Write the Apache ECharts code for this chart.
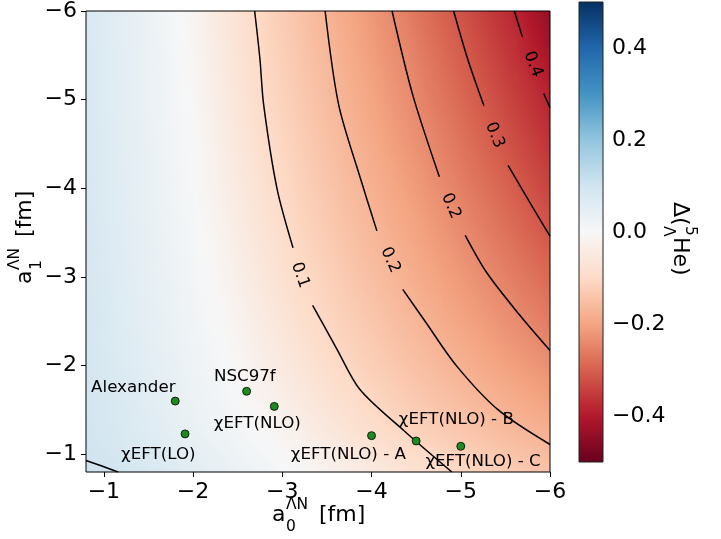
<!DOCTYPE html>
<html><head><meta charset="utf-8">
<script src="https://cdn.jsdelivr.net/npm/echarts@6.0.0/dist/echarts.min.js"></script>
<style>html,body{margin:0;padding:0;background:#fff}#chart{width:721px;height:539px}</style>
</head><body><div id="chart"></div>
<script>
// ---------- data ----------
// grid nodes (fm)
const xNodes = [-0.8,-1.2,-1.6,-2.0,-2.4,-2.8,-3.2,-3.6,-4.0,-4.4,-4.8,-5.2,-5.6,-6.0];
const yNodes = [-0.8,-1.2,-1.6,-2.0,-2.4,-2.8,-3.2,-3.6,-4.0,-4.4,-4.8,-5.2,-5.6,-6.0];
// Delta(5_Lambda He) colour-field values, one row per a1 node, columns follow xNodes
const delta_a1_0_8 = [0.105,0.096,0.077,0.057,0.038,0.018,-0.001,-0.025,-0.048,-0.072,-0.096,-0.112,-0.127,-0.145];
const delta_a1_1_2 = [0.098,0.078,0.059,0.039,0.020,0.000,-0.027,-0.055,-0.083,-0.107,-0.125,-0.142,-0.160,-0.177];
const delta_a1_1_6 = [0.095,0.074,0.053,0.031,0.010,-0.017,-0.048,-0.079,-0.107,-0.127,-0.147,-0.167,-0.186,-0.205];
const delta_a1_2_0 = [0.093,0.070,0.048,0.025,0.002,-0.031,-0.065,-0.099,-0.122,-0.144,-0.166,-0.188,-0.209,-0.230];
const delta_a1_2_4 = [0.091,0.067,0.043,0.019,-0.007,-0.043,-0.080,-0.111,-0.135,-0.159,-0.183,-0.206,-0.230,-0.254];
const delta_a1_2_8 = [0.089,0.064,0.040,0.015,-0.015,-0.054,-0.093,-0.121,-0.147,-0.172,-0.198,-0.223,-0.249,-0.276];
const delta_a1_3_2 = [0.087,0.062,0.036,0.011,-0.023,-0.064,-0.103,-0.130,-0.158,-0.185,-0.212,-0.239,-0.268,-0.297];
const delta_a1_3_6 = [0.086,0.060,0.034,0.007,-0.030,-0.073,-0.110,-0.139,-0.168,-0.196,-0.225,-0.255,-0.286,-0.318];
const delta_a1_4_0 = [0.085,0.058,0.031,0.004,-0.037,-0.081,-0.117,-0.147,-0.177,-0.207,-0.238,-0.270,-0.303,-0.339];
const delta_a1_4_4 = [0.084,0.057,0.029,0.002,-0.043,-0.088,-0.123,-0.154,-0.186,-0.218,-0.250,-0.285,-0.320,-0.358];
const delta_a1_4_8 = [0.083,0.055,0.027,-0.002,-0.049,-0.096,-0.129,-0.162,-0.195,-0.228,-0.263,-0.299,-0.337,-0.376];
const delta_a1_5_2 = [0.082,0.054,0.025,-0.005,-0.054,-0.101,-0.135,-0.168,-0.203,-0.237,-0.275,-0.312,-0.352,-0.393];
const delta_a1_5_6 = [0.081,0.052,0.024,-0.009,-0.058,-0.106,-0.140,-0.175,-0.211,-0.247,-0.286,-0.326,-0.366,-0.418];
const delta_a1_6_0 = [0.080,0.051,0.022,-0.013,-0.063,-0.110,-0.145,-0.181,-0.219,-0.257,-0.298,-0.339,-0.380,-0.440];

// contour lines [a0, a1]
const contourM = [[-0.8,-0.93],[-0.97,-0.87],[-1.16,-0.8]];
const contour01a = [[-2.69,-6.0],[-2.75,-5.45],[-2.79,-4.95],[-2.94,-4.0],[-3.12,-3.33]];
const contour01b = [[-3.34,-2.68],[-3.61,-2.19],[-3.87,-1.73],[-4.37,-1.26],[-4.90,-0.8]];
const contour02a = [[-3.48,-6.0],[-3.63,-4.95],[-3.87,-4.13],[-4.06,-3.52]];
const contour02b = [[-4.35,-2.86],[-4.60,-2.50],[-4.95,-2.0],[-5.42,-1.5],[-6.0,-1.11]];
const contour03a = [[-4.23,-6.0],[-4.46,-5.06],[-4.76,-4.13]];
const contour03b = [[-5.05,-3.47],[-5.29,-3.05],[-5.66,-2.57],[-6.0,-2.17]];
const contour04a = [[-4.92,-6.0],[-5.08,-5.45],[-5.26,-4.93]];
const contour04b = [[-5.53,-4.26],[-5.78,-3.83],[-6.0,-3.46]];
const contour05a = [[-5.60,-6.0],[-5.69,-5.71]];
const contour05b = [[-5.93,-5.07],[-6.0,-4.91]];
// inline contour labels
const contourLabelText = ['0.1','0.2','0.2','0.3','0.4'];
const contourLabelA0 = [-3.20,-4.21,-4.89,-5.38,-5.81];
const contourLabelA1 = [-3.02,-3.19,-3.80,-4.60,-5.40];
const contourLabelAngle = [-71,-66,-66,-68,-69];

// potentials
const pointNames = ['Alexander','χEFT(LO)','NSC97f','χEFT(NLO)','χEFT(NLO) - A','χEFT(NLO) - B','χEFT(NLO) - C'];
const pointA0 = [-1.80,-1.91,-2.60,-2.91,-4.00,-4.50,-5.00];
const pointA1 = [-1.60,-1.23,-1.71,-1.54,-1.21,-1.15,-1.09];
const textA0 = [-1.33,-1.61,-2.58,-2.72,-3.74,-4.95,-5.25];
const textA1 = [-1.75,-0.99,-1.88,-1.35,-0.99,-1.39,-0.92];

// ticks
const xTicks = [-1,-2,-3,-4,-5,-6];
const yTicks = [-1,-2,-3,-4,-5,-6];
const cbTicks = [-0.4,-0.2,0,0.2,0.4];
const CB_MIN = -0.5, CB_MAX = 0.5;

// ---------- colour map (RdBu) ----------
const RDBU = ['#67001f','#b2182b','#d6604d','#f4a582','#fddbc7','#f7f7f7','#d1e5f0','#92c5de','#4393c3','#2166ac','#053061'];
const RDBU_RGB = RDBU.map(h => [parseInt(h.slice(1,3),16), parseInt(h.slice(3,5),16), parseInt(h.slice(5,7),16)]);
function cmap(v){
  let t = (v - CB_MIN) / (CB_MAX - CB_MIN);
  t = Math.max(0, Math.min(1, t));
  const s = t * 10; const i = Math.min(9, Math.floor(s)); const f = s - i;
  const a = RDBU_RGB[i], b = RDBU_RGB[i+1];
  return 'rgb(' + Math.round(a[0]+(b[0]-a[0])*f) + ',' + Math.round(a[1]+(b[1]-a[1])*f) + ',' + Math.round(a[2]+(b[2]-a[2])*f) + ')';
}

const deltaRows = [delta_a1_0_8,delta_a1_1_2,delta_a1_1_6,delta_a1_2_0,delta_a1_2_4,delta_a1_2_8,delta_a1_3_2,delta_a1_3_6,delta_a1_4_0,delta_a1_4_4,delta_a1_4_8,delta_a1_5_2,delta_a1_5_6,delta_a1_6_0];
const cells = [];
for (let j = 0; j < yNodes.length - 1; j++) {
  for (let i = 0; i < xNodes.length - 1; i++) {
    cells.push([xNodes[i], yNodes[j], xNodes[i+1], yNodes[j+1],
      deltaRows[j][i], deltaRows[j][i+1], deltaRows[j+1][i], deltaRows[j+1][i+1]]);
  }
}

function renderCell(params, api) {
  const x0 = api.value(0), y0 = api.value(1), x1 = api.value(2), y1 = api.value(3);
  const a = api.value(4), b = api.value(5), c = api.value(6), d = api.value(7);
  const p00 = api.coord([x0, y0]), p10 = api.coord([x1, y0]), p01 = api.coord([x0, y1]);
  const left = Math.min(p00[0], p10[0]), right = Math.max(p00[0], p10[0]);
  const top = Math.min(p00[1], p01[1]), bottom = Math.max(p00[1], p01[1]);
  const dxp = p10[0] - p00[0], dyp = p01[1] - p00[1];
  const gx = ((b - a) + (d - c)) / 2 / dxp;
  const gy = ((c - a) + (d - b)) / 2 / dyp;
  const m = (a + b + c + d) / 4;
  const W = right - left, H = bottom - top;
  const cx = (left + right) / 2, cy = (top + bottom) / 2;
  const gl = Math.hypot(gx, gy);
  let fill;
  if (gl < 1e-9) fill = cmap(m);
  else {
    const nx = gx / gl, ny = gy / gl;
    const t = (W * Math.abs(nx) + H * Math.abs(ny)) / 2 + 1;
    const v1 = m - gl * t, v2 = m + gl * t;
    const stops = [];
    for (let k = 0; k <= 6; k++) stops.push({offset: k / 6, color: cmap(v1 + (v2 - v1) * k / 6)});
    fill = new echarts.graphic.LinearGradient(cx - nx * t, cy - ny * t, cx + nx * t, cy + ny * t, stops, true);
  }
  return {type: 'rect', shape: {x: left - 0.5, y: top - 0.5, width: W + 1, height: H + 1}, style: {fill: fill}};
}

function renderColorbar(params, api) {
  const pTop = api.coord([0, CB_MAX]), pBot = api.coord([1, CB_MIN]);
  const stops = RDBU.map((col, k) => ({offset: k / 10, color: RDBU[10 - k]}));
  return {type: 'rect', shape: {x: pTop[0], y: pTop[1], width: pBot[0] - pTop[0], height: pBot[1] - pTop[1]},
    style: {fill: new echarts.graphic.LinearGradient(0, 0, 0, 1, stops), stroke: '#222', lineWidth: 1}};
}

const FONT = 'DejaVu Sans';
const minus = v => (v < 0 ? '\u2212' : '') + Math.abs(v);
const minus1 = v => (v < 0 ? '\u2212' : '') + Math.abs(v).toFixed(1);

function contourSeries(data) {
  return {type: 'line', xAxisIndex: 0, yAxisIndex: 0, data: data, symbol: 'none', smooth: 0.3,
    lineStyle: {color: '#000', width: 1.5}, z: 4, silent: true};
}

function mathTitle(x, y, rot, parts) {
  return {type: 'group', x: x, y: y, rotation: rot, children: parts.map(p => ({
    type: 'text', x: p[1], y: p[2], style: {text: p[0], fontSize: p[3], fontFamily: FONT, fill: '#000',
      textAlign: 'left', textVerticalAlign: 'middle'}}))};
}

const chart = echarts.init(document.getElementById('chart'), null, {renderer: 'canvas'});
const option = {
  animation: false,
  backgroundColor: '#fff',
  grid: [
    {left: 86, top: 6, width: 464, height: 466, show: true, borderColor: '#000', borderWidth: 1, backgroundColor: 'transparent', z: 10},
    {left: 579, top: 2, width: 24, height: 460, show: false}
  ],
  xAxis: [
    {type: 'value', gridIndex: 0, min: -6, max: -0.8, inverse: true, splitLine: {show: false},
      axisLine: {show: false},
      axisTick: {show: true, customValues: xTicks, length: 5, lineStyle: {color: '#000', width: 1}},
      axisLabel: {customValues: xTicks, formatter: minus, fontSize: 22, fontFamily: FONT, color: '#000', margin: 9}},
    {type: 'value', gridIndex: 1, min: 0, max: 1, show: false}
  ],
  yAxis: [
    {type: 'value', gridIndex: 0, min: -6, max: -0.8, inverse: true, splitLine: {show: false},
      axisLine: {show: false},
      axisTick: {show: true, customValues: yTicks, length: 5, lineStyle: {color: '#000', width: 1}},
      axisLabel: {customValues: yTicks, formatter: minus, fontSize: 22, fontFamily: FONT, color: '#000', margin: 9}},
    {type: 'value', gridIndex: 1, min: CB_MIN, max: CB_MAX, position: 'right', splitLine: {show: false},
      axisLine: {show: false},
      axisTick: {show: true, customValues: cbTicks, length: 5, lineStyle: {color: '#000', width: 1}},
      axisLabel: {customValues: cbTicks, formatter: minus1, fontSize: 22, fontFamily: FONT, color: '#000', margin: 9}}
  ],
  series: [
    {type: 'custom', xAxisIndex: 0, yAxisIndex: 0, data: cells, renderItem: renderCell, clip: true,
      encode: {x: [0, 2], y: [1, 3]}, z: 1, silent: true},
    contourSeries(contourM),
    contourSeries(contour01a), contourSeries(contour01b),
    contourSeries(contour02a), contourSeries(contour02b),
    contourSeries(contour03a), contourSeries(contour03b),
    contourSeries(contour04a), contourSeries(contour04b),
    contourSeries(contour05a), contourSeries(contour05b),
    {type: 'scatter', xAxisIndex: 0, yAxisIndex: 0, symbolSize: 1, itemStyle: {color: 'rgba(0,0,0,0)', opacity: 1}, z: 5, silent: true,
      data: contourLabelText.map((t, i) => ({name: t, value: [contourLabelA0[i], contourLabelA1[i]], label: {rotate: contourLabelAngle[i]}})),
      label: {show: true, position: 'inside', formatter: p => p.name, fontSize: 16.5, fontFamily: FONT, color: '#000', opacity: 1, align: 'center', verticalAlign: 'middle'}},
    {type: 'scatter', xAxisIndex: 0, yAxisIndex: 0, symbol: 'circle', symbolSize: 8, z: 6, silent: true,
      itemStyle: {color: '#1f8a1f', borderColor: '#000', borderWidth: 0.8, opacity: 1},
      data: pointNames.map((n, i) => ({name: n, value: [pointA0[i], pointA1[i]]}))},
    {type: 'scatter', xAxisIndex: 0, yAxisIndex: 0, symbolSize: 1, itemStyle: {color: 'rgba(0,0,0,0)', opacity: 1}, z: 7, silent: true,
      data: pointNames.map((n, i) => ({name: n, value: [textA0[i], textA1[i]]})),
      label: {show: true, position: 'inside', formatter: p => p.name, fontSize: 16.7, fontFamily: FONT, color: '#000', opacity: 1, align: 'center', verticalAlign: 'middle'}},
    {type: 'custom', xAxisIndex: 1, yAxisIndex: 1, data: [[0, CB_MIN, 1, CB_MAX]], renderItem: renderColorbar,
      encode: {x: [0, 2], y: [1, 3]}, silent: true}
  ],
  graphic: [
    {type: 'text', x: 123, y: 45, style: {text: '(b)', fontSize: 22, fontFamily: FONT, fill: '#000', textAlign: 'center', textVerticalAlign: 'middle'}},
    mathTitle(272, 523, 0, [['a', 0, -7.3, 22], ['ΛN', 14, -18, 15.5], ['0', 14, 4, 15.5], ['[fm]', 47, -7.3, 22]]),
    mathTitle(33, 284, Math.PI / 2, [['a', 0, -7.3, 22], ['ΛN', 14, -18, 15.5], ['1', 14, 4, 15.5], ['[fm]', 47, -7.3, 22]]),
    mathTitle(672, 202, -Math.PI / 2, [['Δ(', 0, -7.3, 22], ['5', 24, -18, 15.5], ['Λ', 24, 4, 15.5], ['He)', 35, -7.3, 22]])
  ]
};
chart.setOption(option);
</script></body></html>
